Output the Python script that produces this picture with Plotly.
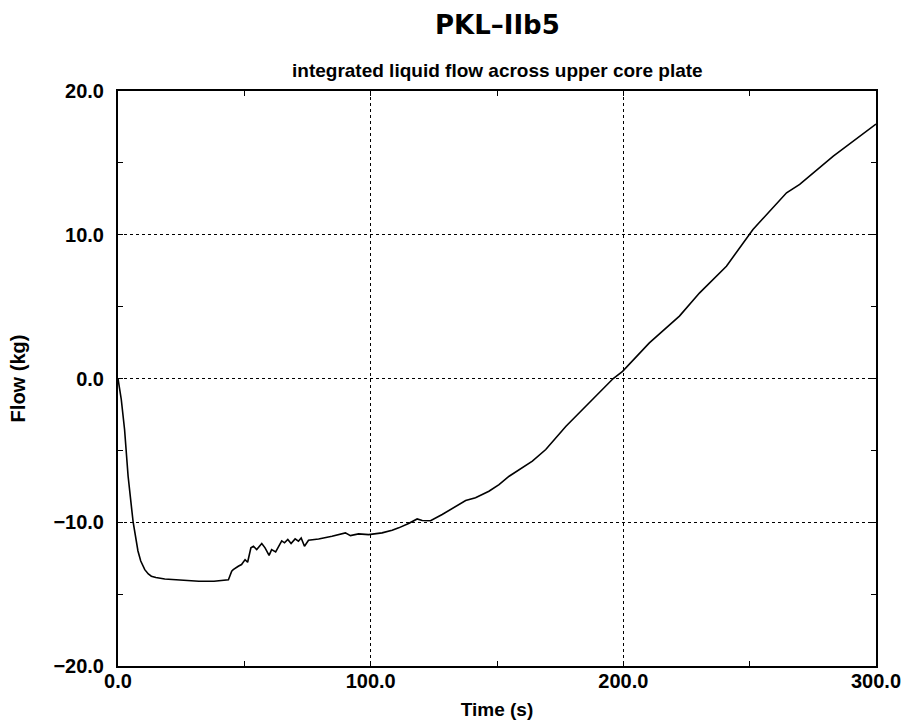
import plotly.graph_objects as go

title_text = "PKL–IIb5"
subtitle_text = "integrated liquid flow across upper core plate"
x_label = "Time (s)"
y_label = "Flow (kg)"

time_s = [0, 1.3, 2.6, 4, 5.3, 6, 7.9, 9, 10.6, 12, 13.2, 15, 18.5, 22, 25, 32, 38,
          42.3, 43.7, 45, 45.6, 47.6, 48.9, 50.3, 51.3, 52.6, 53.6, 54.9, 56.9, 58.2,
          59.8, 60.8, 62.4, 64.8, 65.9, 67.2, 68.5, 70.1, 71.4, 72.5, 73.8, 75.4, 79.4,
          84.7, 90, 92, 95.2, 99.2, 104.5, 108.5, 111.1, 115, 118.4, 120.4, 123.7, 128.3,
          133.6, 137.6, 141.5, 146.8, 150.8, 154.8, 164, 169.3, 177.3, 185.2, 196, 199.7,
          210.3, 222.2, 230.2, 240.8, 251.3, 264.6, 269.8, 283.1, 300]
flow_kg = [0, -1.46, -3.55, -6.8, -8.9, -10.0, -12.0, -12.7, -13.3, -13.6, -13.75, -13.85,
           -13.95, -14.0, -14.05, -14.1, -14.1, -14.05, -14.0, -13.4, -13.3, -13.06, -12.94,
           -12.6, -12.78, -11.78, -11.67, -11.9, -11.48, -11.78, -12.3, -11.9, -12.06, -11.3,
           -11.43, -11.2, -11.48, -11.16, -11.32, -11.09, -11.67, -11.25, -11.16, -10.97,
           -10.74, -10.93, -10.81, -10.86, -10.74, -10.55, -10.39, -10.09, -9.77, -9.88,
           -9.9, -9.46, -8.88, -8.49, -8.3, -7.84, -7.38, -6.8, -5.75, -4.94, -3.32, -1.93,
           0.0, 0.5, 2.48, 4.34, 5.96, 7.81, 10.37, 12.92, 13.5, 15.47, 17.7]

x_ticks = [0, 100, 200, 300]
y_ticks = [-20, -10, 0, 10, 20]

fig = go.Figure()
fig.add_trace(go.Scatter(x=time_s, y=flow_kg, mode="lines",
                         line=dict(color="black", width=1.6), showlegend=False))

axis_common = dict(
    showline=True, linecolor="black", linewidth=2, mirror="allticks",
    ticks="inside", ticklen=5, tickcolor="black", tickwidth=1,
    showgrid=True, gridcolor="black", gridwidth=1, griddash="dot",
    zeroline=False, automargin=False, ticklabeloverflow="allow",
    tickfont=dict(family="Liberation Sans, Arial", size=20, color="black", weight="bold"),
    tickformat=".1f",
)

fig.update_xaxes(range=[0, 300], tickvals=x_ticks,
                 minor=dict(ticks="inside", dtick=50, tick0=0, ticklen=5, tickcolor="black", showgrid=False),
                 title=dict(text=x_label, font=dict(family="Liberation Sans, Arial", size=19, color="black", weight="bold"), standoff=12),
                 ticklabelstandoff=-4,
                 **axis_common)
fig.update_yaxes(range=[-20, 20], tickvals=y_ticks,
                 minor=dict(ticks="inside", dtick=5, tick0=0, ticklen=5, tickcolor="black", showgrid=False),
                 title=dict(text=y_label, font=dict(family="Liberation Sans, Arial", size=20, color="black", weight="bold"), standoff=22),
                 ticklabelstandoff=8,
                 **axis_common)

fig.update_layout(
    autosize=True,
    margin=dict(l=118, r=30, t=91, b=61),
    paper_bgcolor="white", plot_bgcolor="white",
    annotations=[
        dict(text=title_text, xref="paper", yref="paper", x=0.5, y=1.115,
             xanchor="center", yanchor="middle", showarrow=False,
             font=dict(family="DejaVu Sans", size=26, color="black", weight="bold")),
        dict(text=subtitle_text, xref="paper", yref="paper", x=0.5, y=1.035,
             xanchor="center", yanchor="middle", showarrow=False,
             font=dict(family="Liberation Sans, Arial", size=19, color="black", weight="bold")),
    ],
)

fig.write_html("out.html", default_width="100%", default_height="100%")
